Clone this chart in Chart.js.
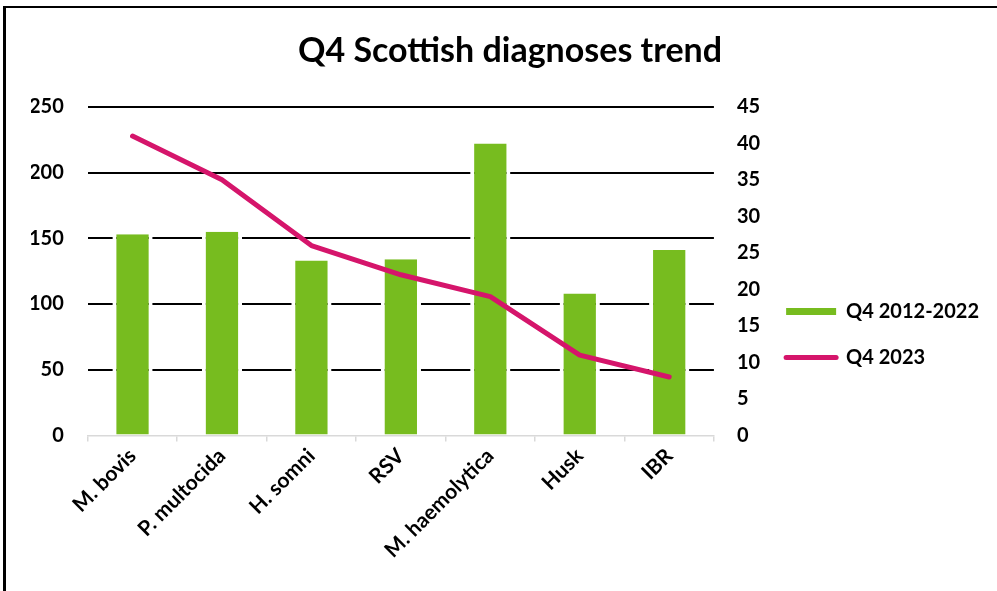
<!DOCTYPE html>
<html>
<head>
<meta charset="utf-8">
<title>Q4 Scottish diagnoses trend</title>
<script src="https://cdn.jsdelivr.net/npm/chart.js@4.4.1/dist/chart.umd.min.js"></script>
<style>
  html, body { margin: 0; padding: 0; background: #fff; }
  #wrap { position: relative; width: 997px; height: 591px; overflow: hidden; }
  #frame {
    position: absolute; left: 3px; top: 6px; right: 0; bottom: 0;
    border-left: 3px solid #000; border-top: 2px solid #000;
  }
  #chart { position: absolute; left: 0; top: 0; }
</style>
</head>
<body>
<div id="wrap">
  <div id="frame"></div>
  <canvas id="chart" width="997" height="591"></canvas>
</div>
<script>
// Diagnoses per agent: ten-year Q4 baseline (left axis) and Q4 2023 (right axis)
const categories = ['M. bovis', 'P. multocida', 'H. somni', 'RSV', 'M. haemolytica', 'Husk', 'IBR'];
const baselineValues = [153, 155, 133, 134, 222, 108, 141];
const recentValues = [41, 35, 26, 22, 19, 11, 8];
const leftTicks = [0, 50, 100, 150, 200, 250];
const rightTicks = [0, 5, 10, 15, 20, 25, 30, 35, 40, 45];

const GREEN = '#77bc1f';
const MAGENTA = '#d5156b';
const FONT = 'Lato, "Liberation Sans", sans-serif';

function draw() {
  const chart = new Chart(document.getElementById('chart'), {
    data: {
      labels: categories,
      datasets: [
        {
          type: 'bar',
          label: 'Q4 2012-2022',
          data: baselineValues,
          yAxisID: 'y',
          backgroundColor: GREEN,
          borderColor: '#ffffff',
          borderWidth: { left: 4, right: 4, top: 0, bottom: 0 },
          borderSkipped: false,
          barPercentage: 0.45,
          categoryPercentage: 1,
          order: 1
        },
        {
          type: 'line',
          label: 'Q4 2023',
          data: recentValues,
          yAxisID: 'y1',
          borderColor: MAGENTA,
          backgroundColor: MAGENTA,
          borderWidth: 5,
          borderCapStyle: 'round',
          borderJoinStyle: 'round',
          pointRadius: 0,
          tension: 0,
          order: 0
        }
      ]
    },
    options: {
      responsive: false,
      animation: false,
      devicePixelRatio: 1,
      layout: { padding: { left: 31, right: 8, top: 0, bottom: 26 } },
      plugins: {
        title: {
          display: true,
          text: 'Q4 Scottish diagnoses trend',
          color: '#000',
          font: { family: FONT, size: 34, weight: 'bold' },
          padding: { top: 31, bottom: 35 }
        },
        legend: {
          display: true,
          position: 'right',
          title: {
            display: true,
            text: ' ',
            font: { family: FONT, size: 20 },
            padding: { top: 40, bottom: 40 }
          },
          labels: {
            color: '#000',
            font: { family: FONT, size: 20, weight: 'bold' },
            usePointStyle: true,
            pointStyleWidth: 50,
            boxHeight: 7,
            padding: 26,
            sort: (a, b) => a.datasetIndex - b.datasetIndex,
            generateLabels: (c) => c.data.datasets.map((ds, i) => ({
              text: ds.label,
              datasetIndex: i,
              fillStyle: ds.type === 'bar' ? GREEN : MAGENTA,
              strokeStyle: ds.type === 'bar' ? GREEN : MAGENTA,
              lineWidth: ds.type === 'bar' ? 0 : 5,
              lineCap: 'round',
              pointStyle: ds.type === 'bar' ? 'rect' : 'line',
              fontColor: '#000',
              hidden: false
            }))
          }
        },
        tooltip: { enabled: false }
      },
      scales: {
        x: {
          type: 'category',
          offset: true,
          // rotated labels may hang past the plot's left edge
          afterFit: (s) => { s.paddingLeft = 0; s.paddingRight = 0; },
          grid: {
            offset: true,
            drawOnChartArea: false,
            drawTicks: true,
            tickLength: 6,
            color: '#d9d9d9',
            lineWidth: 1.5
          },
          border: { display: true, color: '#d9d9d9', width: 1.5 },
          ticks: {
            color: '#000',
            font: { family: FONT, size: 21, weight: 'bold' },
            minRotation: 45,
            maxRotation: 45,
            padding: 2,
            autoSkip: false
          }
        },
        y: {
          position: 'left',
          min: 0,
          max: 250,
          afterBuildTicks: (axis) => { axis.ticks = leftTicks.map(v => ({ value: v })); },
          // keep the axis box tight: label width plus one gap
          afterFit: (s) => { s.width = Math.max(0, s.width - 26); },
          grid: {
            drawTicks: false,
            lineWidth: 2,
            color: (ctx) => (ctx.tick && ctx.tick.value === 0) ? 'rgba(0,0,0,0)' : '#000'
          },
          border: { display: false },
          ticks: {
            color: '#000',
            font: { family: FONT, size: 20, weight: 'bold' },
            padding: 24
          }
        },
        y1: {
          position: 'right',
          min: 0,
          max: 45,
          afterBuildTicks: (axis) => { axis.ticks = rightTicks.map(v => ({ value: v })); },
          afterFit: (s) => { s.width = Math.max(0, s.width - 23); },
          grid: { display: false, drawTicks: false },
          border: { display: false },
          ticks: {
            color: '#000',
            font: { family: FONT, size: 20, weight: 'bold' },
            padding: 23
          }
        }
      }
    }
  });

  // Let the side legend take the full width of its longest label
  const legend = chart.legend;
  const baseUpdate = legend.update.bind(legend);
  legend.update = (maxWidth, maxHeight, margins) => baseUpdate(Math.max(maxWidth, 300), maxHeight, margins);
  chart.update();
}

// Make sure the bold face is ready before Chart.js measures any text
Promise.all([
  document.fonts.load('bold 20px Lato'),
  document.fonts.load('bold 34px Lato'),
  document.fonts.load('20px Lato')
]).then(draw, draw);
</script>
</body>
</html>
